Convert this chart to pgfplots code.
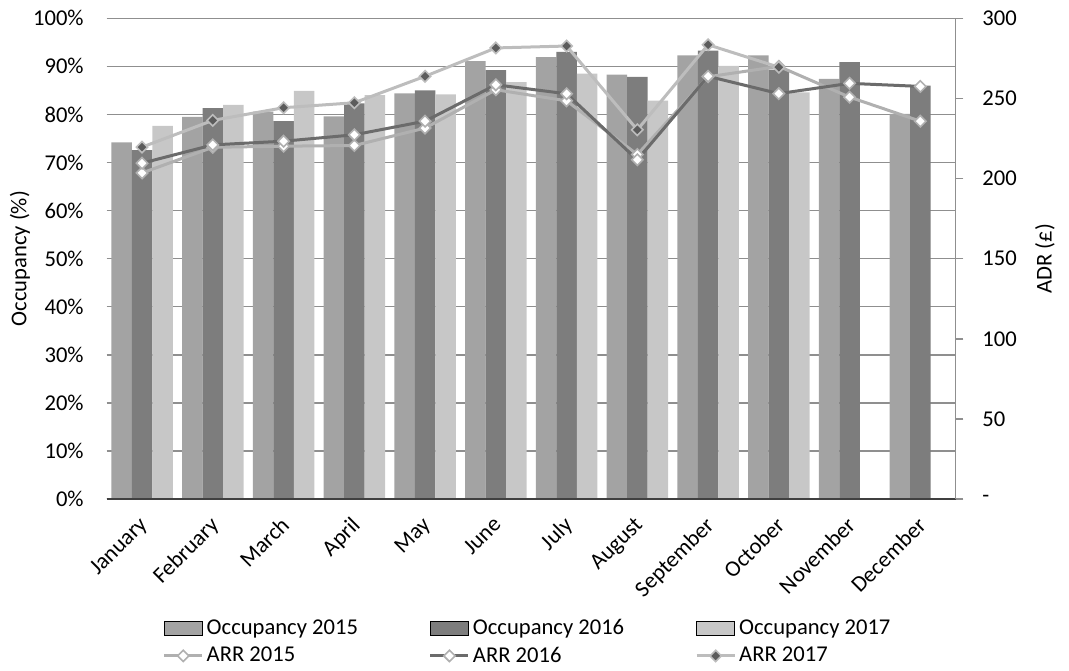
\documentclass[border=0pt]{standalone}
\usepackage{fontspec}
\setmainfont{Carlito}
\usepackage{pgfplots}
\pgfplotsset{compat=1.18}

\definecolor{occA}{gray}{0.64}
\definecolor{occB}{gray}{0.49}
\definecolor{occC}{gray}{0.78}
\definecolor{arrA}{gray}{0.69}
\definecolor{arrB}{gray}{0.42}
\definecolor{arrC}{gray}{0.74}
\definecolor{mkC}{gray}{0.36}
\definecolor{gridc}{gray}{0.56}

\newcommand{\chartfont}{\fontsize{11.3}{13.5}\selectfont}

\pgfplotsset{
  every axis/.append style={
    scale only axis, width=424.5pt, height=240.35pt,
    xmin=-0.5, xmax=11.5,
    font=\chartfont,
    tick label style={font=\chartfont},
    /pgf/number format/assume math mode=true,
  },
  barleg/.style={legend image code/.code={%
    \fill[##1] (0pt,-3.6pt) rectangle (19pt,3.6pt);}},
  lineleg/.style={legend image code/.code={%
    \draw[mark repeat=2, mark phase=2, ##1]
      plot coordinates {(0pt,0pt) (9.5pt,0pt) (19pt,0pt)};}},
  arr/.style={line width=1.5pt, mark=square*, mark size=2pt, lineleg},
}

\begin{document}
\begin{tikzpicture}
\useasboundingbox (-53.35pt,-85.5pt) rectangle (481.15pt,249.5pt);

% occupancy bars on the left axis
\begin{axis}[
  ymin=0, ymax=100,
  ybar=0pt, bar width=10.25pt,
  axis x line*=bottom, axis y line*=left,
  x axis line style={draw=black!75, line width=0.8pt},
  y axis line style={draw=none},
  major tick length=0pt,
  ytick={0,10,...,100},
  yticklabel={\pgfmathprintnumber{\tick}\%},
  yticklabel style={xshift=-8pt},
  ymajorgrids,
  grid style={gridc, line width=0.75pt},
  xtick={0,...,11},
  xticklabels={January,February,March,April,May,June,July,August,September,October,November,December},
  xticklabel style={rotate=45, anchor=north east, inner sep=0pt, xshift=-7.1pt, yshift=-4.2pt},
  ylabel={Occupancy (\%)},
  ylabel style={at={(axis description cs:-0.1021,0.5)}, anchor=center},
]
\addplot[fill=occA, draw=none] coordinates {
  (0,74.2) (1,79.5) (2,80.6) (3,79.6) (4,84.4) (5,91.1)
  (6,91.9) (7,88.3) (8,92.3) (9,92.3) (10,87.4) (11,80.1)};
\addplot[fill=occB, draw=none] coordinates {
  (0,72.6) (1,81.3) (2,78.6) (3,82.3) (4,85.0) (5,89.2)
  (6,93.0) (7,87.8) (8,93.3) (9,89.3) (10,90.9) (11,86.0)};
\addplot[fill=occC, draw=none] coordinates {
  (0,77.6) (1,82.0) (2,84.9) (3,84.0) (4,84.2) (5,86.7)
  (6,88.5) (7,82.9) (8,90.1) (9,84.6)};
\end{axis}

% average room rate lines on the right axis; its bottom line sits over the bars
\begin{axis}[
  ymin=0, ymax=300,
  axis x line*=bottom, axis y line*=right,
  xtick=\empty,
  x axis line style={draw=black!75, line width=0.8pt},
  y axis line style={draw=gridc, line width=0.75pt},
  ytick={0,50,...,300},
  yticklabels={-,50,100,150,200,250,300},
  tick align=outside, major tick length=3.8pt,
  ytick style={gridc, line width=0.75pt},
  yticklabel style={xshift=6pt},
  ylabel={ADR (£)},
  ylabel style={at={(axis description cs:1.1052,0.5)}, anchor=center},
  legend columns=3,
  legend cell align=left,
  legend style={draw=none, fill=none, inner sep=0pt, outer sep=0pt,
    at={(0.066,-0.2445)}, anchor=north west, font=\chartfont,
    row sep=1.5pt,
    nodes={inner sep=1.5pt},
    /tikz/every even column/.append style={column sep=34pt}},
]
\addlegendimage{barleg, fill=occA}
\addlegendentry{Occupancy 2015}
\addlegendimage{barleg, fill=occB}
\addlegendentry{Occupancy 2016}
\addlegendimage{barleg, fill=occC}
\addlegendentry{Occupancy 2017}

\addplot[arr, color=arrA, mark options={rotate=45, fill=white, draw=arrA, line width=0.8pt}]
  coordinates {
  (0,203.5) (1,219.5) (2,220.2) (3,220.6) (4,231.5) (5,255.4)
  (6,248.5) (7,215.0) (8,263.5) (9,270.0) (10,250.8) (11,235.8)};
\addlegendentry{ARR 2015}
\addplot[arr, color=arrB, mark options={rotate=45, fill=white, draw=arrA, line width=0.8pt}]
  coordinates {
  (0,209.6) (1,221.0) (2,223.3) (3,227.3) (4,235.8) (5,258.5)
  (6,252.9) (7,211.7) (8,263.8) (9,253.0) (10,259.4) (11,257.5)};
\addlegendentry{ARR 2016}
\addplot[arr, color=arrC, mark options={rotate=45, fill=mkC, draw=arrC, line width=0.8pt}]
  coordinates {
  (0,219.6) (1,236.3) (2,244.2) (3,247.3) (4,263.8) (5,281.5)
  (6,282.7) (7,230.4) (8,283.5) (9,269.5)};
\addlegendentry{ARR 2017}
\end{axis}
\end{tikzpicture}
\end{document}
